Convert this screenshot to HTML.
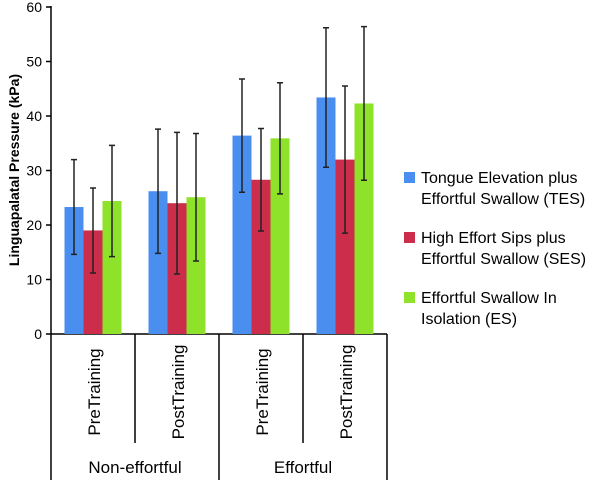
<!DOCTYPE html>
<html><head><meta charset="utf-8"><style>
body{margin:0;background:#fff;}
svg text{font-family:"Liberation Sans",sans-serif;fill:#000;}
</style></head><body>
<svg id="chart" width="600" height="480">
<g id="axes"></g><g id="bars"></g><g id="errs"></g><g id="legend"></g>
</svg>
<script>
const categories=["PreTraining","PostTraining","PreTraining","PostTraining"];
const groups=["Non-effortful","Effortful"];
const seriesNames=[["Tongue Elevation plus","Effortful Swallow (TES)"],["High Effort Sips plus","Effortful Swallow (SES)"],["Effortful Swallow In","Isolation (ES)"]];
const tesValues=[23.3,26.2,36.4,43.4];
const sesValues=[19.0,24.0,28.3,32.0];
const esValues=[24.4,25.1,35.9,42.3];
const tesErr=[8.7,11.4,10.4,12.8];
const sesErr=[7.8,13.0,9.4,13.5];
const esErr=[10.2,11.7,10.2,14.1];
const yTicks=[0,10,20,30,40,50,60];
const colors=["#4a8ef0","#cc2d4a","#8fe22a"];
const NS="http://www.w3.org/2000/svg";
const x0=51,x1=387,yZero=334,yTop=7,yMax=60;
const y=v=>yZero-(v/yMax)*(yZero-yTop);
const cw=(x1-x0)/categories.length;
const cx=i=>x0+cw*(i+0.5);
function mk(tag,attrs,parent,txt){const e=document.createElementNS(NS,tag);for(const k in attrs)e.setAttribute(k,attrs[k]);if(txt!==undefined)e.textContent=txt;document.getElementById(parent).appendChild(e);return e;}
let e=mk("line",{x1:x0,y1:yTop-1,x2:x0,y2:480,stroke:"#000","stroke-width":1.5},"axes");


e=mk("line",{x1:x0,y1:yZero,x2:x1,y2:yZero,stroke:"#000","stroke-width":1.5},"axes");


yTicks.forEach(t=>{
 mk("line",{x1:x0-5,y1:y(t),x2:x0,y2:y(t),stroke:"#000","stroke-width":1.5},"axes");
 e=mk("text",{x:x0-9,y:y(t)+5,"text-anchor":"end","font-size":14},"axes",t);
 
 
});
e=mk("text",{transform:"translate(19,170) rotate(-90)","text-anchor":"middle","font-size":14,"font-weight":"bold"},"axes","Linguapalatal Pressure (kPa)");


for(let i=1;i<categories.length;i++){
 const sx=x0+cw*i;const full=(i%2===0);
 mk("line",{x1:sx,y1:yZero,x2:sx,y2:full?480:443,stroke:"#000","stroke-width":1.5},"axes");
}
mk("line",{x1:x1,y1:yZero,x2:x1,y2:480,stroke:"#000","stroke-width":1.5},"axes");
categories.forEach((c,i)=>{
 e=mk("text",{transform:`translate(${cx(i)+7},392) rotate(-90)`,"text-anchor":"middle","font-size":17},"axes",c);
 
 
});
groups.forEach((g,i)=>{
 e=mk("text",{x:x0+cw*(2*i+1),y:473,"text-anchor":"middle","font-size":17},"axes",g);
 
 
});
const vals=[tesValues,sesValues,esValues],errs=[tesErr,sesErr,esErr];
const bw=19;
vals.forEach((arr,s)=>{arr.forEach((v,i)=>{
 const bx=cx(i)-1.5*bw+s*bw;
 const r=mk("rect",{x:bx,y:y(v),width:bw,height:yZero-y(v),fill:colors[s]},"bars");
 
 
 const mx=bx+bw/2,hi=y(v+errs[s][i]),lo=y(v-errs[s][i]);
 const eb=mk("path",{d:`M${mx},${hi}V${lo}M${mx-3},${hi}H${mx+3}M${mx-3},${lo}H${mx+3}`,stroke:"#222","stroke-width":1.5,fill:"none"},"errs");
 
 
});});
seriesNames.forEach((n,s)=>{
 const ly=180+s*60;
 const sq=mk("rect",{x:404,y:ly-8,width:11,height:11,fill:colors[s]},"legend");
 
 
 const t=mk("text",{x:421,y:ly+3,"font-size":16},"legend",n[0]);
 
 
 mk("text",{x:421,y:ly+24,"font-size":16},"legend",n[1]);
});
</script>
</body></html>
